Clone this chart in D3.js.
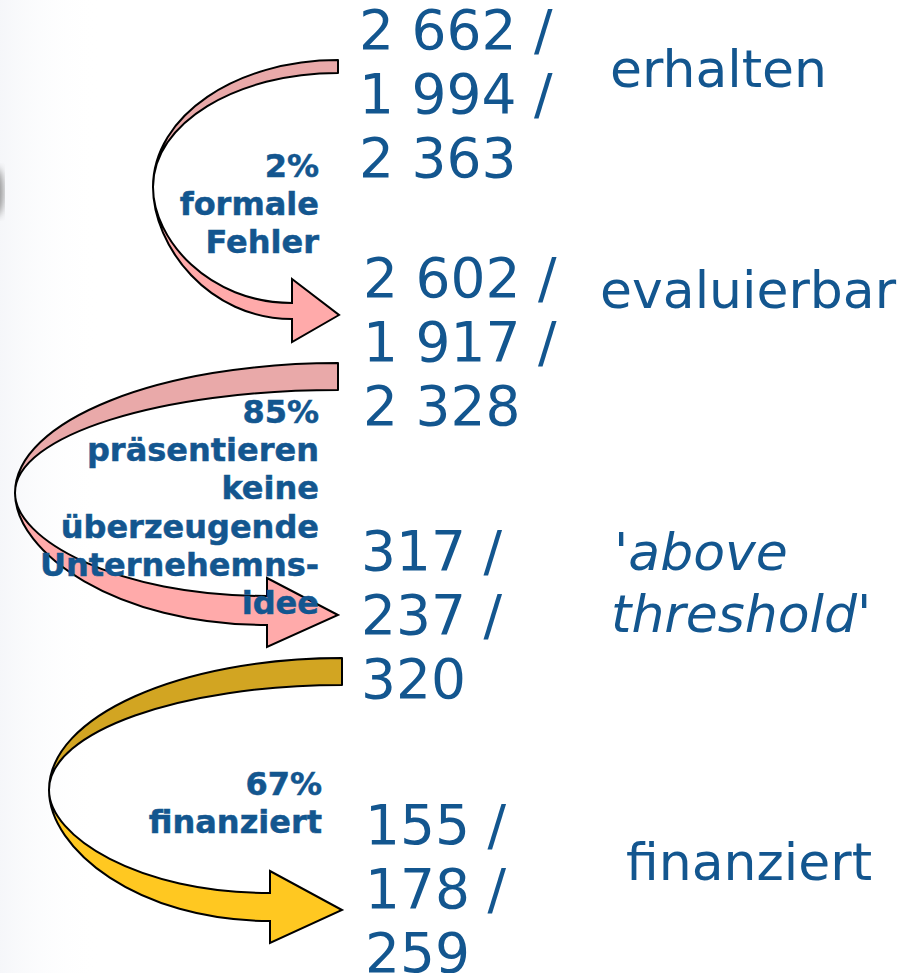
<!DOCTYPE html>
<html>
<head>
<meta charset="utf-8">
<script src="https://cdn.jsdelivr.net/npm/d3@7"></script>
<style>
  html, body { margin: 0; padding: 0; background: #fff; }
  svg { display: block; }
</style>
</head>
<body>
<div id="chart"></div>
<script>
// stages of the funnel and the three counts shown for each
const stages = ["erhalten", "evaluierbar", "'above threshold'", "finanziert"];
const countsFirst = [2662, 2602, 317, 155];
const countsSecond = [1994, 1917, 237, 178];
const countsThird = [2363, 2328, 320, 259];

// notes on the arrows between stages
const dropRates = ["2%", "85%", "67%"];
const dropTexts = [
	["formale", "Fehler"],
	["präsentieren", "keine", "überzeugende", "Unternehemns-", "idee"],
	["finanziert"],
];

const width = 918, height = 973;
const blue = "#13568f";

// layout
const blockX = d3.scaleOrdinal(stages, [359, 363, 361, 365]);
const blockY = d3.scaleOrdinal(stages, [49, 297, 570, 844]);
const lineGap = 64;
const labelPos = [
	{ x: 610, y: 87 },
	{ x: 600, y: 308 },
	{ x: 614, y: 570 },
	{ x: 626, y: 880 },
];
const notePos = [
	{ x: 319, y: 177 },
	{ x: 319, y: 423 },
	{ x: 322, y: 795 },
];
const noteGap = 38.2;

// arrow geometry: start band, turning point, head
const arrows = [
	{ x0: 338, yTop: 60, w: 13, xl: 153, yl: 187, hx: 292, bt: 303, bb: 319,
		headTop: 279, headBot: 342, tipX: 339, tipY: 315, back: "#e9a9a9", front: "#ffaaaa" },
	{ x0: 338, yTop: 363, w: 27, xl: 15, yl: 493, hx: 267, bt: 596, bb: 625,
		headTop: 578, headBot: 647, tipX: 338, tipY: 615, back: "#e9a9a9", front: "#ffaaaa" },
	{ x0: 342, yTop: 658, w: 27, xl: 49, yl: 790, hx: 270, bt: 893, bb: 921,
		headTop: 871, headBot: 943, tipX: 342, tipY: 910, back: "#d2a522", front: "#ffc821" },
];

const fmt = d3.formatLocale({ decimal: ",", thousands: " ", grouping: [3], currency: ["", " €"] }).format(",");

const svg = d3.select("#chart")
	.append("svg")
	.attr("width", width)
	.attr("height", height);

// faint grey shade along the left edge
const defs = svg.append("defs");
const grad = defs.append("linearGradient").attr("id", "shade");
grad.append("stop").attr("offset", "0%").attr("stop-color", "#eceef4").attr("stop-opacity", 0.5);
grad.append("stop").attr("offset", "100%").attr("stop-color", "#ffffff").attr("stop-opacity", 0);
defs.append("filter").attr("id", "blur")
	.append("feGaussianBlur").attr("stdDeviation", 4);

svg.append("rect")
	.attr("x", 0).attr("y", 0)
	.attr("width", 100).attr("height", height)
	.attr("fill", "url(#shade)");
svg.append("ellipse")
	.attr("cx", -5).attr("cy", 192)
	.attr("rx", 8).attr("ry", 24)
	.attr("fill", "#8a8a8a")
	.attr("filter", "url(#blur)");

// back half of each ribbon (from the start to the turning point)
function backPath(a) {
	const p = d3.path();
	const cx = a.x0 - 0.55 * (a.x0 - a.xl);
	p.moveTo(a.x0, a.yTop);
	p.bezierCurveTo(cx, a.yTop, a.xl, a.yl - 0.56 * (a.yl - a.yTop), a.xl, a.yl);
	p.bezierCurveTo(a.xl, a.yl - 0.56 * (a.yl - a.yTop - a.w), cx, a.yTop + a.w, a.x0, a.yTop + a.w);
	p.closePath();
	return p.toString();
}

// front half with the arrow head
function frontPath(a) {
	const p = d3.path();
	const cx = a.hx - 0.6 * (a.hx - a.xl);
	p.moveTo(a.xl, a.yl);
	p.bezierCurveTo(a.xl, a.yl + 0.45 * (a.bt - a.yl), cx, a.bt, a.hx, a.bt);
	p.lineTo(a.hx, a.headTop);
	p.lineTo(a.tipX, a.tipY);
	p.lineTo(a.hx, a.headBot);
	p.lineTo(a.hx, a.bb);
	p.bezierCurveTo(cx, a.bb, a.xl, a.yl + 0.45 * (a.bb - a.yl), a.xl, a.yl);
	p.closePath();
	return p.toString();
}

const arrowG = svg.append("g")
	.selectAll("g")
	.data(arrows)
	.join("g");

arrowG.append("path")
	.attr("d", backPath)
	.attr("fill", d => d.back)
	.attr("stroke", "#000")
	.attr("stroke-width", 2)
	.attr("stroke-linejoin", "round");

arrowG.append("path")
	.attr("d", frontPath)
	.attr("fill", d => d.front)
	.attr("stroke", "#000")
	.attr("stroke-width", 2)
	.attr("stroke-linejoin", "miter");

// counts per stage
const blocks = svg.append("g")
	.attr("font-family", "'DejaVu Sans', Verdana, sans-serif")
	.attr("font-size", 55)
	.attr("fill", blue)
	.selectAll("text")
	.data(stages)
	.join("text")
	.attr("x", d => blockX(d))
	.attr("y", d => blockY(d));

blocks.selectAll("tspan")
	.data((d, i) => [
		fmt(countsFirst[i]) + " /",
		fmt(countsSecond[i]) + " /",
		fmt(countsThird[i]),
	])
	.join("tspan")
	.attr("x", function () { return this.parentNode.getAttribute("x"); })
	.attr("dy", (d, i) => i === 0 ? 0 : lineGap)
	.text(d => d);

// stage labels
const labels = svg.append("g")
	.attr("font-family", "'DejaVu Sans', Verdana, sans-serif")
	.attr("font-size", 52)
	.attr("fill", blue);

stages.forEach((s, i) => {
	const t = labels.append("text")
		.attr("x", labelPos[i].x)
		.attr("y", labelPos[i].y);
	if (s.startsWith("'")) {
		const words = s.slice(1, -1).split(" ");
		t.append("tspan").attr("font-style", "italic").text("'" + words[0]);
		t.append("tspan")
			.attr("x", labelPos[i].x - 3)
			.attr("dy", 62)
			.attr("font-style", "italic")
			.text(words[1]);
		t.append("tspan").text("'");
	} else {
		t.text(s);
	}
});

// notes beside the arrows
const notes = svg.append("g")
	.attr("font-family", "'DejaVu Sans', Verdana, sans-serif")
	.attr("font-weight", "bold")
	.attr("font-size", 32)
	.attr("fill", blue)
	.attr("stroke", blue)
	.attr("stroke-width", 0.5)
	.attr("text-anchor", "end")
	.selectAll("text")
	.data(dropRates)
	.join("text")
	.attr("x", (d, i) => notePos[i].x)
	.attr("y", (d, i) => notePos[i].y);

notes.selectAll("tspan")
	.data((d, i) => [d].concat(dropTexts[i]))
	.join("tspan")
	.attr("x", function () { return this.parentNode.getAttribute("x"); })
	.attr("dy", (d, i) => i === 0 ? 0 : noteGap)
	.text(d => d);
</script>
</body>
</html>
